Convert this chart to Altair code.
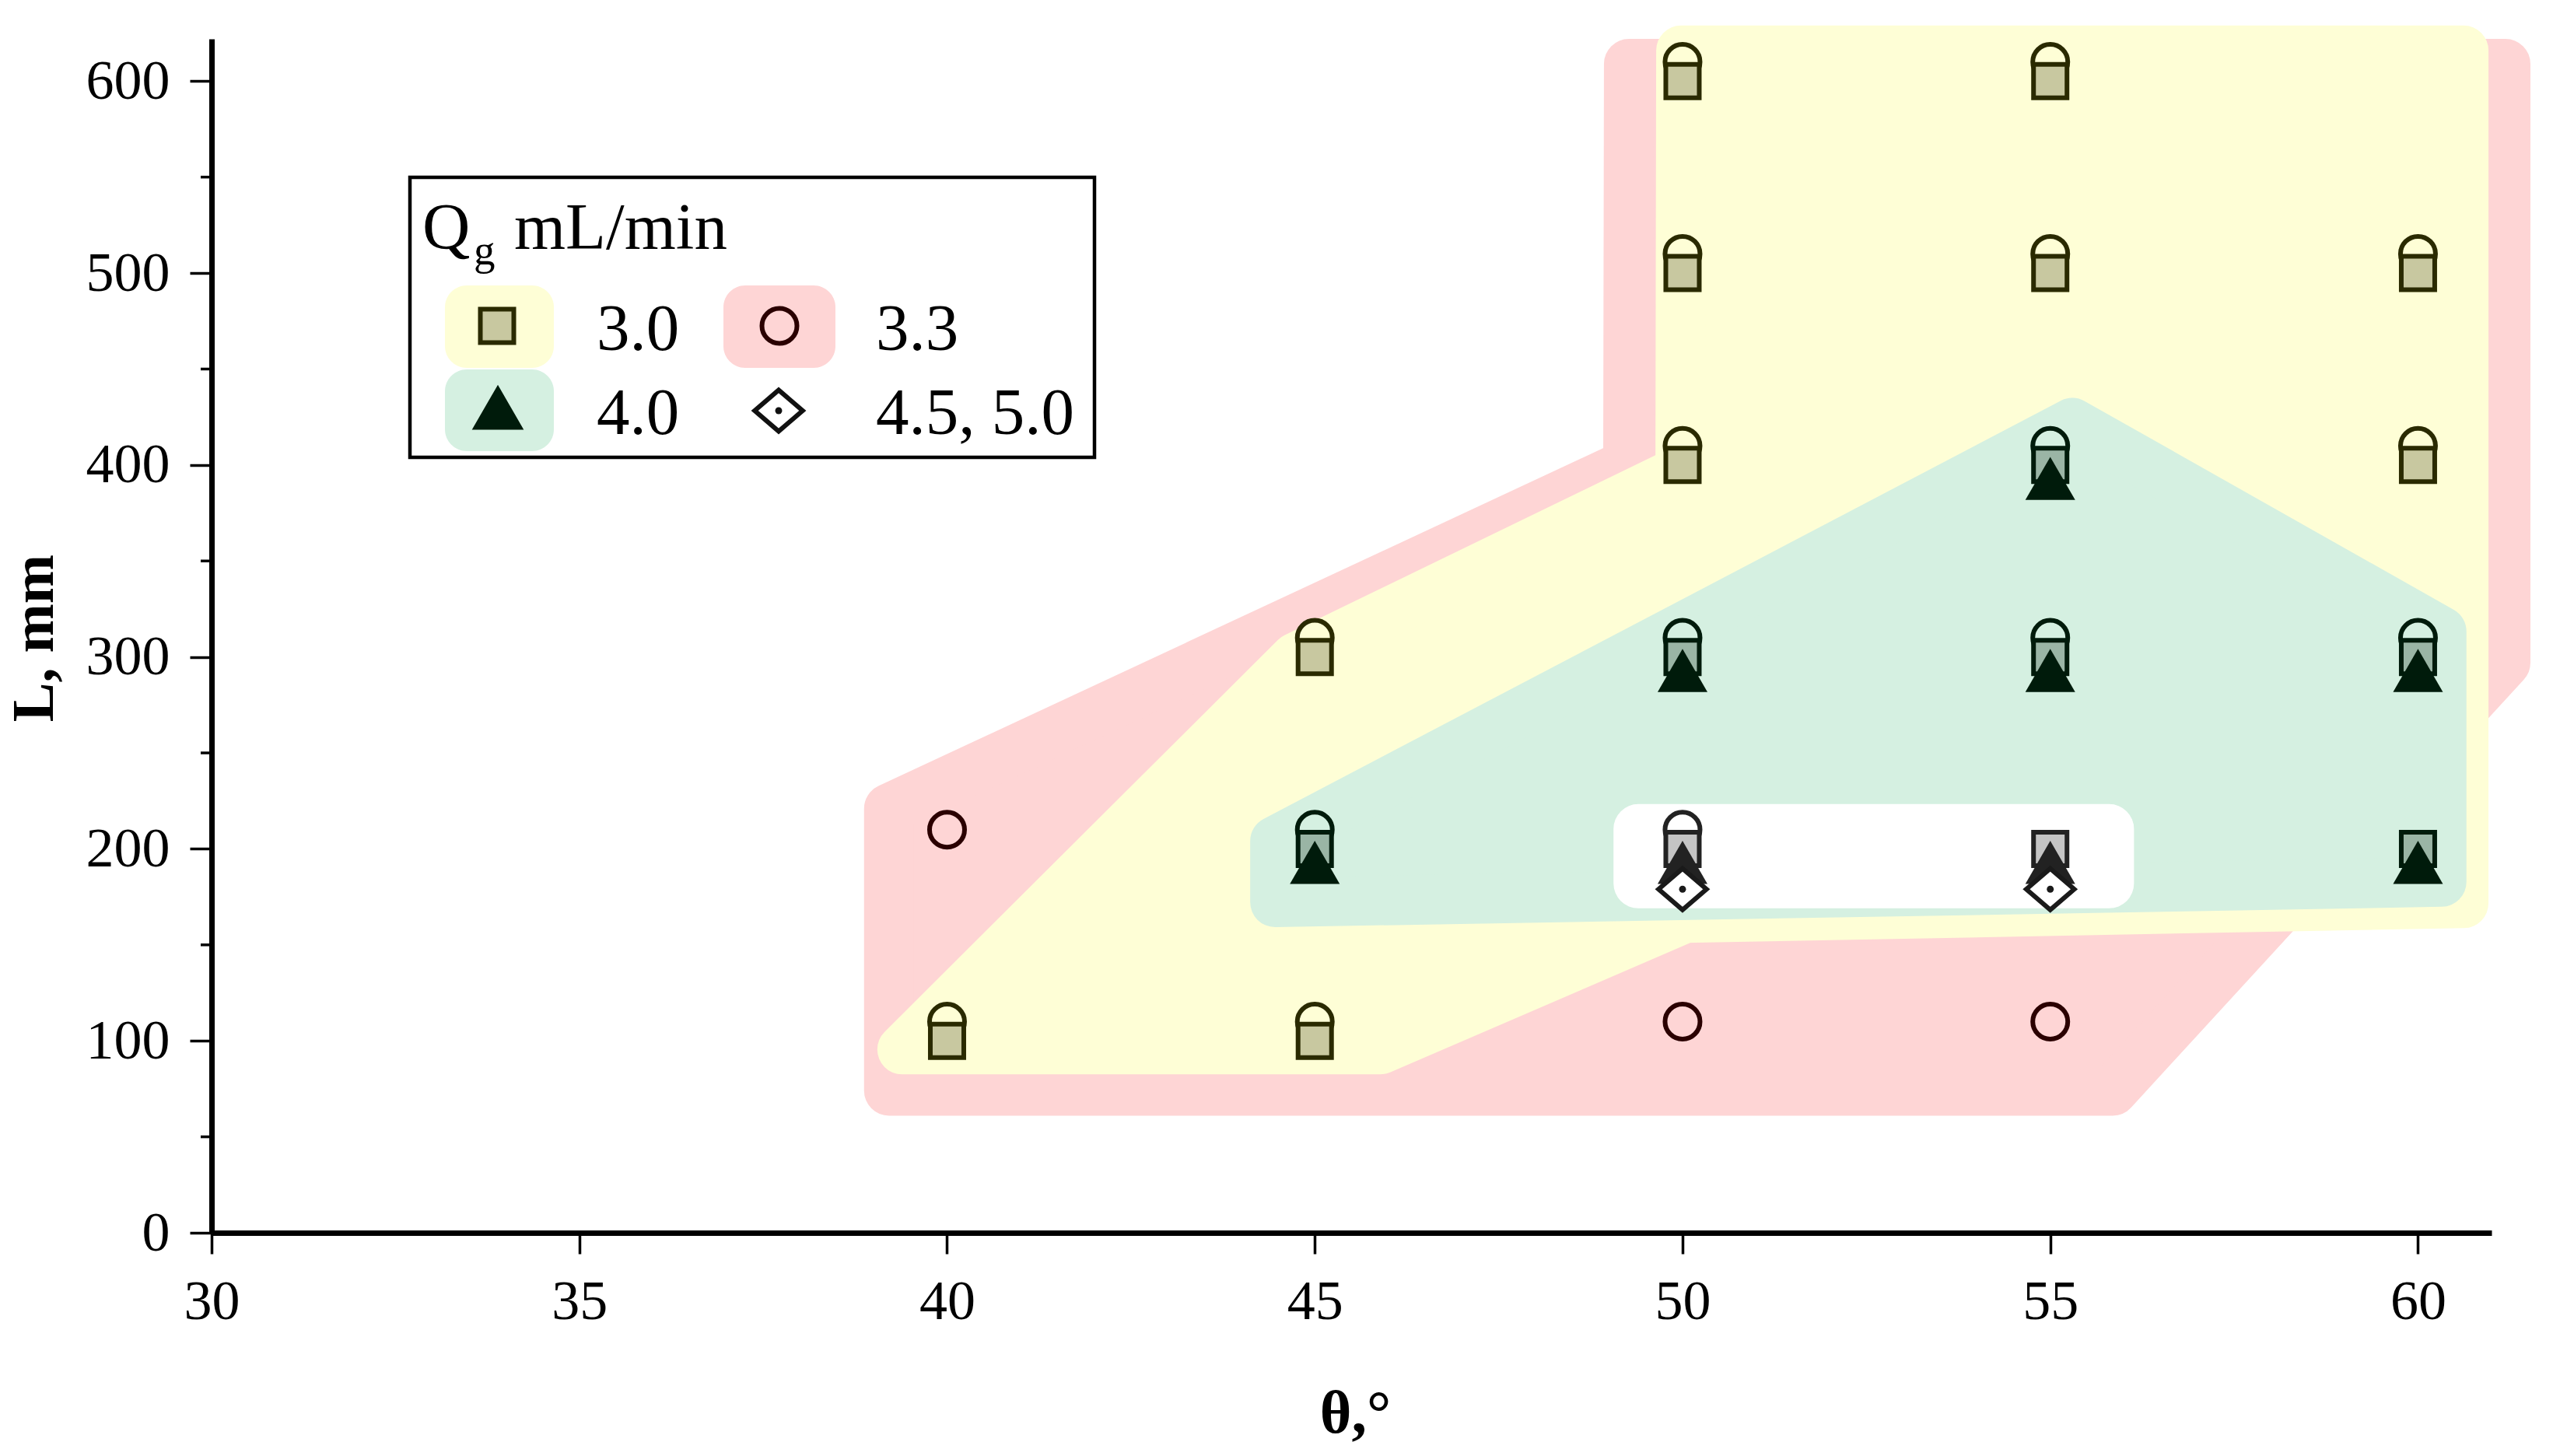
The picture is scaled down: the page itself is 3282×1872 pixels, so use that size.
import altair as alt
import pandas as pd

# ---------------- data ----------------
# Qg = 3.0 mL/min (squares)
sq_theta = [40, 45, 45, 45, 50, 50, 50, 50, 50, 55, 55, 55, 55, 55, 60, 60, 60, 60]
sq_L = [100, 100, 200, 300, 200, 300, 400, 500, 600, 200, 300, 400, 500, 600, 200, 300, 400, 500]
sq_zone = ['Y', 'Y', 'G', 'Y', 'W', 'G', 'Y', 'Y', 'Y', 'W', 'G', 'G', 'Y', 'Y', 'G', 'G', 'Y', 'Y']

# Qg = 3.3 mL/min (circles, drawn slightly above)
ci_theta = [40, 40, 45, 45, 45, 50, 50, 50, 50, 50, 50, 55, 55, 55, 55, 55, 60, 60, 60]
ci_L = [110, 210, 110, 210, 310, 110, 210, 310, 410, 510, 610, 110, 310, 410, 510, 610, 310, 410, 510]
ci_zone = ['Y', 'R', 'Y', 'G', 'Y', 'R', 'W', 'G', 'Y', 'Y', 'Y', 'R', 'G', 'G', 'Y', 'Y', 'G', 'Y', 'Y']

# Qg = 4.0 mL/min (triangles, drawn slightly below)
tr_theta = [45, 50, 50, 55, 55, 55, 60, 60]
tr_L = [193, 193, 293, 193, 293, 393, 193, 293]
tr_zone = ['G', 'W', 'G', 'W', 'G', 'G', 'G', 'G']

# Qg = 4.5, 5.0 mL/min (diamonds)
di_theta = [50, 55]
di_L = [179, 179]

# shaded regions (inner outline, theta / lower L / upper L)
red_theta = [39.21, 49.26, 49.27, 55.85, 61.19]
red_low = [74, 74, 74, 74, 297]
red_high = [221, 400.5, 609, 609, 609]

yel_theta = [39.39, 44.735, 45.89, 49.97, 49.98, 50.03, 60.62]
yel_low = [95.5, 95.5, 95.5, 162.9, 163.0, 164.0, 171.7]
yel_high = [95.5, 299.6, 321.1, 397.0, 616, 616, 616]

grn_theta = [44.46, 55.30, 60.32]
grn_low = [172.2, 179.4, 182.8]
grn_high = [204.1, 422.0, 313.3]

wht_theta = [49.40, 55.80]
wht_low = [182, 182]
wht_high = [210.4, 210.4]

x_ticks = [30, 35, 40, 45, 50, 55, 60]
y_ticks = [0, 100, 200, 300, 400, 500, 600]
y_minor = [50, 150, 250, 350, 450, 550]

# ---------------- styling ----------------
FONT = 'Liberation Serif'
C_RED, C_YEL, C_GRN, C_WHT = '#fed5d5', '#fefed6', '#d5f0e1', '#ffffff'
zones = ['R', 'Y', 'G', 'W']
stroke_rng = ['#2a0000', '#2a2a00', '#001b0b', '#222222']
sqfill_rng = ['#c49a9a', '#c8c8a0', '#9ab5a5', '#c4c4c4']
DIAMOND = 'M-1,0L0,-0.86L1,0L0,0.86Z'
SW = 6

W, H = 2931, 1535
XS = alt.Scale(domain=[30, 61], nice=False, zero=False)
YS = alt.Scale(domain=[0, 622], nice=False, zero=False)

x_axis = alt.Axis(values=x_ticks, format='d', grid=False, domainColor='black', domainWidth=7,
                  tickColor='black', tickWidth=3.5, tickSize=27, labelFont=FONT, labelFontSize=72,
                  labelColor='black', labelPadding=26, labelFlush=False, labelOverlap=False,
                  titleFont=FONT, titleFontSize=78, titleFontWeight='bold', titleColor='black',
                  titleX=1470, titleY=256, titleBaseline='alphabetic', titleAlign='center')
y_axis = alt.Axis(values=y_ticks, format='d', grid=False, domainColor='black', domainWidth=7,
                  tickColor='black', tickWidth=3.5, tickSize=28, labelFont=FONT, labelFontSize=72,
                  labelColor='black', labelPadding=26, labelFlush=False, labelOverlap=False,
                  titleFont=FONT, titleFontSize=76, titleFontWeight='bold', titleColor='black',
                  titleAngle=270, titleX=-205, titleY=770, titleBaseline='alphabetic', titleAlign='center')


def X(f='theta'):
    return alt.X(f'{f}:Q', scale=XS, axis=x_axis, title='θ,°')


def Y(f='L'):
    return alt.Y(f'{f}:Q', scale=YS, axis=y_axis, title='L, mm')


def region(theta, low, high, color):
    df = pd.DataFrame({'theta': theta, 'low': low, 'high': high})
    return alt.Chart(df).mark_area(fill=color, stroke=color, strokeWidth=64, strokeJoin='round',
                                   opacity=1, fillOpacity=1).encode(
        x=X(), y=Y('low'), y2=alt.Y2('high'))


layers = [
    region(red_theta, red_low, red_high, C_RED),
    region(yel_theta, yel_low, yel_high, C_YEL),
    region(grn_theta, grn_low, grn_high, C_GRN),
    region(wht_theta, wht_low, wht_high, C_WHT),
]

minor_df = pd.DataFrame({'m': y_minor})
layers.append(alt.Chart(minor_df).mark_rule(color='black', strokeWidth=3.5).encode(
    y=Y('m'), x=alt.value(-14), x2=alt.value(0)))

ci_df = pd.DataFrame({'theta': ci_theta, 'L': ci_L, 'zone': ci_zone})
sq_df = pd.DataFrame({'theta': sq_theta, 'L': sq_L, 'zone': sq_zone})
tr_df = pd.DataFrame({'theta': tr_theta, 'L': tr_L, 'zone': tr_zone})
di_df = pd.DataFrame({'theta': di_theta, 'L': di_L})

layers.append(alt.Chart(ci_df).mark_point(shape='circle', size=2025, strokeWidth=SW, filled=False,
                                          opacity=1).encode(
    x=X(), y=Y(),
    stroke=alt.Stroke('zone:N', scale=alt.Scale(domain=zones, range=stroke_rng), legend=None)))
layers.append(alt.Chart(sq_df).mark_point(shape='square', size=1849, strokeWidth=SW, filled=True,
                                          opacity=1).encode(
    x=X(), y=Y(),
    fill=alt.Fill('zone:N', scale=alt.Scale(domain=zones, range=sqfill_rng), legend=None),
    stroke=alt.Stroke('zone:N', scale=alt.Scale(domain=zones, range=stroke_rng), legend=None)))
layers.append(alt.Chart(tr_df).mark_point(shape='triangle-up', size=4100, strokeWidth=1.5, filled=True,
                                          opacity=1).encode(
    x=X(), y=Y(),
    color=alt.Color('zone:N', scale=alt.Scale(domain=zones, range=stroke_rng), legend=None)))
layers.append(alt.Chart(di_df).mark_point(shape=DIAMOND, size=3800, strokeWidth=SW, filled=True,
                                          fill='white', stroke='#1a1a1a', opacity=1).encode(
    x=X(), y=Y()))
layers.append(alt.Chart(di_df).mark_point(shape='circle', size=80, filled=True, color='#1a1a1a',
                                          opacity=1).encode(x=X(), y=Y()))

# ---------------- legend (drawn by hand, pixel positions inside the plot area) ----------------
dummy = pd.DataFrame({'k': [0]})


def lg_rect(x1, x2, y1, y2, **kw):
    return alt.Chart(dummy).mark_rect(**kw).encode(
        x=alt.value(x1), x2=alt.value(x2), y=alt.value(y1), y2=alt.value(y2))


def lg_sym(x, y, **kw):
    return alt.Chart(dummy).mark_point(opacity=1, **kw).encode(x=alt.value(x), y=alt.value(y))


def lg_text(x, y, txt, size=85):
    return alt.Chart(dummy).mark_text(text=txt, font=FONT, fontSize=size, align='left',
                                      baseline='alphabetic', color='black').encode(
        x=alt.value(x), y=alt.value(y))


layers += [
    lg_rect(255, 1135, 178, 538, fill='white', stroke='black', strokeWidth=4.5),
    lg_rect(300, 440, 317, 423, fill=C_YEL, cornerRadius=28),
    lg_rect(658, 802, 317, 423, fill=C_RED, cornerRadius=28),
    lg_rect(300, 440, 425, 530, fill=C_GRN, cornerRadius=28),
    lg_sym(367, 369, shape='square', size=1849, filled=True, fill='#c8c8a0', stroke='#2a2a00',
           strokeWidth=SW),
    lg_sym(730, 369, shape='circle', size=2025, filled=False, stroke='#2a0000', strokeWidth=SW),
    lg_sym(368, 474, shape='triangle-up', size=4100, filled=True, fill='#001b0b', stroke='#001b0b',
           strokeWidth=1.5),
    lg_sym(729, 478, shape=DIAMOND, size=3800, filled=True, fill='white', stroke='#111111',
           strokeWidth=SW),
    lg_sym(729, 478, shape='circle', size=80, filled=True, fill='#111111'),
    lg_text(271, 270, 'Q'),
    lg_text(337, 290, 'g', 55),
    lg_text(389, 270, 'mL/min'),
    lg_text(495, 400, '3.0'),
    lg_text(854, 400, '3.3'),
    lg_text(495, 508, '4.0'),
    lg_text(854, 508, '4.5, 5.0'),
]

chart = alt.layer(*layers).properties(
    width=W, height=H,
    padding={'left': 272, 'top': 50, 'right': 79, 'bottom': 287},
    autosize=alt.AutoSizeParams(type='none'),
    background='white',
).configure_view(stroke=None)

chart.save('out.html', embed_options={'renderer': 'svg', 'actions': False})
